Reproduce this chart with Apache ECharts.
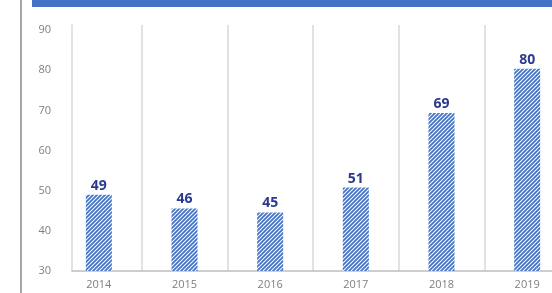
<!DOCTYPE html>
<html lang="en">
<head>
	<meta charset="UTF-8">
	<title>chart</title>
	<script src="https://cdn.jsdelivr.net/npm/echarts@6/dist/echarts.min.js"></script>
	<style>
		html, body { margin: 0; padding: 0; background: #fff; }
		#chart { width: 552px; height: 293px; }
	</style>
</head>
<body>
	<div id="chart"></div>
<script>
    var years = ['2014', '2015', '2016', '2017', '2018', '2019'];
    var values = [49, 45.6, 44.6, 50.8, 69.4, 80.4];
    var yTicks = [30, 40, 50, 60, 70, 80, 90];

    //斜线填充
    function hatch() {
        var c = document.createElement('canvas');
        c.width = 4; c.height = 4;
        var ctx = c.getContext('2d');
        ctx.fillStyle = '#ffffff';
        ctx.fillRect(0, 0, 4, 4);
        ctx.strokeStyle = '#4472c4';
        ctx.lineWidth = 1.8;
        ctx.beginPath();
        ctx.moveTo(-1, 5); ctx.lineTo(5, -1);
        ctx.moveTo(-3, 3); ctx.lineTo(3, -3);
        ctx.moveTo(1, 7); ctx.lineTo(7, 1);
        ctx.stroke();
        return c;
    }

    var gridColor = '#d9d9d9';
    var yMax = 91.3; // 竖线比90略高
    var myChart = echarts.init(document.getElementById('chart'));
    var option = {
        animation: false,
        textStyle: { fontFamily: 'Open Sans' },
        grid: [
            { left: 56, width: 514, top: 25, bottom: 22, outerBoundsMode: 'none' },
            { left: 72, right: 0, top: 25, bottom: 22, outerBoundsMode: 'none' }
        ],
        xAxis: [{
            type: 'category',
            gridIndex: 0,
            data: years,
            axisLine: { show: false },
            axisTick: { show: false },
            axisLabel: { color: '#7f7f7f', fontSize: 11, margin: 8 },
            splitLine: {
                show: true,
                lineStyle: { color: ['rgba(0,0,0,0)', gridColor, gridColor, gridColor, gridColor, gridColor, gridColor], width: 1.5 }
            }
        }, {
            type: 'category',
            gridIndex: 1,
            data: [''],
            axisLine: { lineStyle: { color: '#bfbfbf', width: 1.5 } },
            axisTick: { show: false },
            axisLabel: { show: false }
        }],
        yAxis: [{
            type: 'value',
            gridIndex: 0,
            min: yTicks[0], max: yMax, interval: 10,
            show: false
        }, {
            type: 'value',
            gridIndex: 1,
            min: yTicks[0], max: yMax, interval: 10,
            axisLine: { show: true, lineStyle: { color: gridColor, width: 1.5 } },
            axisTick: { show: false },
            splitLine: { show: false },
            axisLabel: { color: '#7f7f7f', fontSize: 11, margin: 21, showMaxLabel: false }
        }],
        series: [{
            type: 'bar',
            xAxisIndex: 0,
            yAxisIndex: 0,
            data: values,
            barWidth: 26,
            itemStyle: { color: { image: hatch(), repeat: 'repeat' } },
            label: {
                show: true,
                position: 'top',
                distance: 2,
                color: '#2b3990',
                fontWeight: 'bold',
                fontSize: 14,
                formatter: function (p) { return Math.round(p.value); }
            }
        }],
        graphic: [
            { type: 'rect', shape: { x: 32, y: 0, width: 520, height: 7 }, style: { fill: '#4472c4' } },
            { type: 'rect', shape: { x: 20, y: 0, width: 2, height: 293 }, style: { fill: '#a6a6a6' } }
        ]
    };
    myChart.setOption(option);
</script>
</body>
</html>
